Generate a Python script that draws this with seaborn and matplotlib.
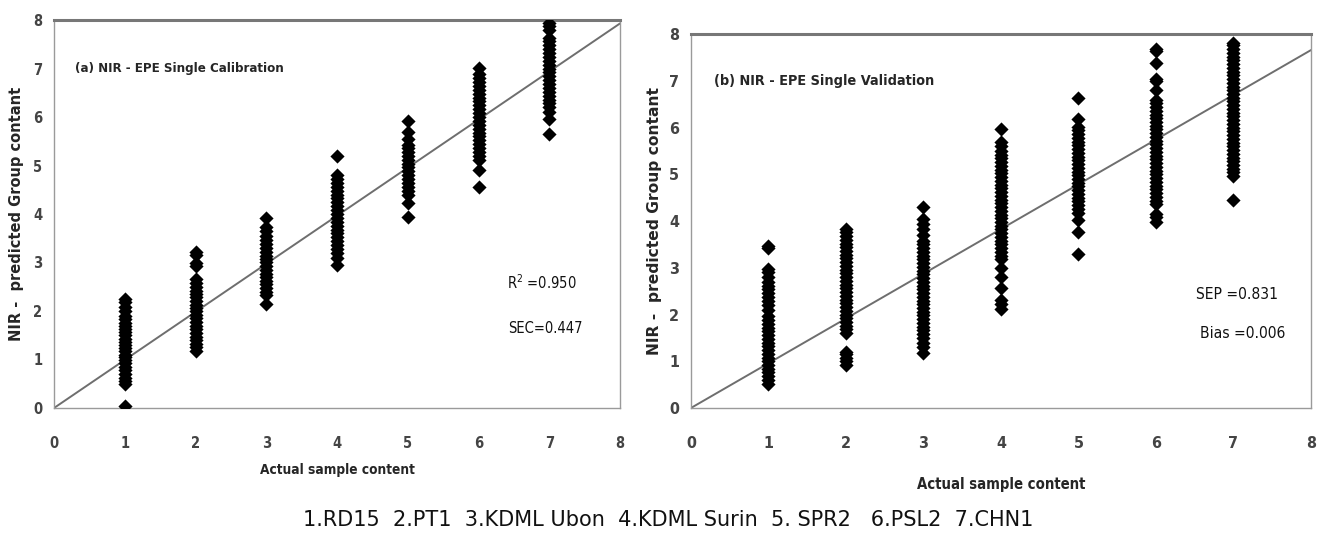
import numpy as np
import pandas as pd
import matplotlib
matplotlib.use("Agg")
import matplotlib.pyplot as plt
import seaborn as sns

sns.set_style("white")
plt.rcParams['font.family'] = ['DejaVu Sans']
plt.rcParams['font.stretch'] = 'condensed'

# =========================
# DATA
# =========================
groups = [1, 2, 3, 4, 5, 6, 7]

cal_1 = [0.05, 0.5, 0.55, 0.62, 0.7, 0.78, 0.85, 0.92, 0.98, 1.05, 1.1, 1.17, 1.24, 1.3,
         1.36, 1.42, 1.5, 1.56, 1.62, 1.7, 1.76, 1.83, 1.9, 2.0, 2.08, 2.18, 2.25]
cal_2 = [1.18, 1.25, 1.32, 1.4, 1.47, 1.55, 1.62, 1.7, 1.78, 1.85, 1.92, 2.0, 2.06, 2.13,
         2.2, 2.28, 2.35, 2.42, 2.5, 2.58, 2.66, 2.92, 2.98, 3.15, 3.22]
cal_3 = [2.14, 2.33, 2.4, 2.48, 2.55, 2.62, 2.7, 2.77, 2.85, 2.92, 3.0, 3.07, 3.14, 3.22,
         3.3, 3.38, 3.46, 3.55, 3.64, 3.73, 3.92]
cal_4 = [2.95, 3.1, 3.2, 3.28, 3.36, 3.44, 3.52, 3.6, 3.68, 3.76, 3.84, 3.92, 4.0, 4.08,
         4.16, 4.24, 4.32, 4.4, 4.48, 4.56, 4.64, 4.72, 4.8, 5.2]
cal_5 = [3.93, 4.22, 4.4, 4.48, 4.56, 4.64, 4.72, 4.8, 4.88, 4.96, 5.04, 5.12, 5.2, 5.28,
         5.36, 5.42, 5.55, 5.7, 5.92]
cal_6 = [4.55, 4.9, 5.12, 5.2, 5.28, 5.36, 5.44, 5.52, 5.6, 5.68, 5.76, 5.84, 5.92, 6.0,
         6.08, 6.16, 6.24, 6.32, 6.4, 6.48, 6.56, 6.64, 6.72, 6.8, 6.88, 7.02]
cal_7 = [5.66, 5.95, 6.1, 6.2, 6.28, 6.36, 6.44, 6.52, 6.6, 6.68, 6.76, 6.84, 6.92, 7.0,
         7.08, 7.16, 7.24, 7.32, 7.4, 7.48, 7.56, 7.62, 7.8, 7.88, 7.93]

val_1 = [0.52, 0.6, 0.68, 0.76, 0.84, 0.92, 1.0, 1.08, 1.16, 1.24, 1.32, 1.4, 1.48, 1.56,
         1.64, 1.72, 1.8, 1.88, 1.96, 2.1, 2.2, 2.3, 2.38, 2.46, 2.54, 2.62, 2.7, 2.8, 2.9,
         2.98, 3.42, 3.47]
val_2 = [0.92, 1.0, 1.08, 1.15, 1.2, 1.6, 1.68, 1.76, 1.84, 1.92, 2.0, 2.08, 2.16, 2.24,
         2.32, 2.4, 2.48, 2.56, 2.64, 2.72, 2.8, 2.88, 2.96, 3.04, 3.12, 3.2, 3.28, 3.36,
         3.44, 3.52, 3.6, 3.68, 3.76, 3.82]
val_3 = [1.18, 1.3, 1.4, 1.5, 1.58, 1.66, 1.74, 1.82, 1.9, 1.98, 2.06, 2.14, 2.22, 2.3,
         2.38, 2.46, 2.54, 2.62, 2.7, 2.78, 2.86, 2.94, 3.02, 3.1, 3.18, 3.26, 3.34, 3.42,
         3.5, 3.58, 3.7, 3.82, 3.94, 4.05, 4.31]
val_4 = [2.12, 2.22, 2.32, 2.56, 2.8, 3.0, 3.18, 3.26, 3.34, 3.42, 3.5, 3.58, 3.66, 3.74,
         3.82, 3.9, 3.98, 4.06, 4.14, 4.22, 4.3, 4.38, 4.46, 4.54, 4.62, 4.7, 4.78, 4.86,
         4.94, 5.02, 5.1, 5.18, 5.26, 5.34, 5.42, 5.5, 5.6, 5.7, 5.96]
val_5 = [3.3, 3.77, 4.03, 4.18, 4.26, 4.34, 4.42, 4.5, 4.58, 4.66, 4.74, 4.82, 4.9, 4.98,
         5.06, 5.14, 5.22, 5.3, 5.38, 5.46, 5.54, 5.62, 5.7, 5.78, 5.86, 5.94, 6.02, 6.18,
         6.64]
val_6 = [3.97, 4.08, 4.16, 4.36, 4.44, 4.52, 4.6, 4.68, 4.76, 4.84, 4.92, 5.0, 5.08, 5.16,
         5.24, 5.32, 5.4, 5.48, 5.56, 5.64, 5.72, 5.8, 5.88, 5.96, 6.04, 6.12, 6.2, 6.28,
         6.36, 6.44, 6.52, 6.6, 6.8, 7.0, 7.05, 7.38, 7.64, 7.68]
val_7 = [4.46, 4.96, 5.04, 5.12, 5.2, 5.28, 5.36, 5.44, 5.52, 5.6, 5.68, 5.76, 5.84, 5.92,
         6.0, 6.08, 6.16, 6.24, 6.32, 6.4, 6.48, 6.56, 6.64, 6.72, 6.8, 6.88, 6.96, 7.04,
         7.12, 7.2, 7.28, 7.36, 7.44, 7.52, 7.6, 7.68, 7.76, 7.82]

# fitted lines (start / end)
line_x = [0, 8]
cal_line_y = [0, 7.93]
val_line_y = [0, 7.66]

axis_ticks = [0, 1, 2, 3, 4, 5, 6, 7, 8]
caption = "1.RD15  2.PT1  3.KDML Ubon  4.KDML Surin  5. SPR2   6.PSL2  7.CHN1"


def to_frame(series_list):
    rows = []
    for g, vals in zip(groups, series_list):
        for v in vals:
            rows.append((g, v))
    return pd.DataFrame(rows, columns=["actual", "predicted"])


cal_df = to_frame([cal_1, cal_2, cal_3, cal_4, cal_5, cal_6, cal_7])
val_df = to_frame([val_1, val_2, val_3, val_4, val_5, val_6, val_7])

# =========================
# FIGURE
# =========================
fig = plt.figure(figsize=(13.28, 5.34), dpi=100)
ax1 = fig.add_axes([0.0407, 0.236, 0.4262, 0.7265])
ax2 = fig.add_axes([0.5203, 0.236, 0.4669, 0.700])

tick_col = "#444444"


def style_panel(ax, df, line_y, title, title_size, stats, stats_pos, stats_size,
                tick_size, ylab_size, ylab_x, xlab_size, xlab_y):
    sns.scatterplot(data=df, x="actual", y="predicted", ax=ax, marker="D",
                    color="black", s=52, linewidth=0, legend=False, zorder=3)
    sns.lineplot(x=line_x, y=line_y, ax=ax, color="#6e6e6e", linewidth=1.4, zorder=2)
    ax.set_xlim(0, 8)
    ax.set_ylim(0, 8)
    ax.set_xticks(axis_ticks)
    ax.set_yticks(axis_ticks)
    for sp in ["left", "bottom", "right"]:
        ax.spines[sp].set_color("#9a9a9a")
        ax.spines[sp].set_linewidth(1.0)
    ax.spines["top"].set_color("#777777")
    ax.spines["top"].set_linewidth(2.2)
    ax.tick_params(axis="both", which="major", direction="out", length=5,
                   width=1, color="#9a9a9a", labelcolor=tick_col, labelsize=tick_size)
    ax.tick_params(axis="x", pad=15)
    for lab in ax.get_xticklabels() + ax.get_yticklabels():
        lab.set_fontweight("bold")
    ax.set_ylabel("NIR -  predicted Group contant", fontsize=ylab_size, fontweight="bold",
                  fontstretch="normal", va="center")
    ax.yaxis.set_label_coords(ylab_x, 0.5)
    ax.set_xlabel("Actual sample content", fontsize=xlab_size, fontweight="bold",
                  va="center")
    ax.xaxis.set_label_coords(0.5, xlab_y)
    ax.text(0.037, 0.875, title, transform=ax.transAxes, fontsize=title_size,
            fontweight="bold", va="center", ha="left")
    for (tx, ty), s in zip(stats_pos, stats):
        ax.text(tx, ty, s, transform=ax.transAxes, fontsize=stats_size, va="center",
                ha="left", color="#111111")


style_panel(ax1, cal_df, cal_line_y, "(a) NIR - EPE Single Calibration", 9.5,
            ["R$^2$ =0.950", "SEC=0.447"], [(0.80, 0.322), (0.802, 0.206)], 10.5,
            10.5, 10.5, -0.066, 9.8, -0.16)
style_panel(ax2, val_df, val_line_y, "(b) NIR - EPE Single Validation", 10.4,
            ["SEP =0.831", "Bias =0.006"], [(0.815, 0.303), (0.821, 0.20)], 11.2,
            11.5, 11.2, -0.058, 10.6, -0.206)

fig.text(0.503, 0.027, caption, ha="center", va="center", fontsize=15,
         fontstretch="normal", color="#111111")

fig.savefig("out.png", dpi=100, facecolor="white")
